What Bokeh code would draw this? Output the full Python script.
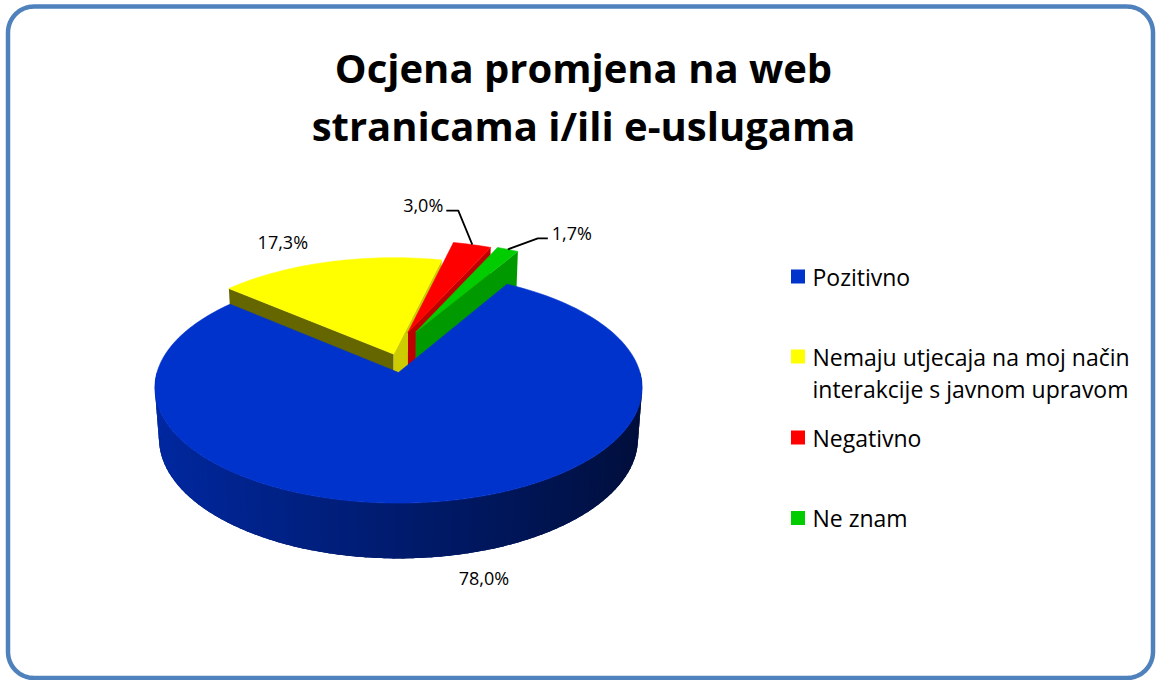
import math
import numpy as np
from bokeh.plotting import figure
from bokeh.models import Range1d, ColumnDataSource
from bokeh.core.properties import value
from bokeh.embed import file_html
from bokeh.resources import INLINE

# ---------------- data ----------------
title_lines = ["Ocjena promjena na web", "stranicama i/ili e-uslugama"]
categories = ["Pozitivno",
              "Nemaju utjecaja na moj način interakcije s javnom upravom",
              "Negativno",
              "Ne znam"]
legend_lines = [["Pozitivno"],
                ["Nemaju utjecaja na moj način", "interakcije s javnom upravom"],
                ["Negativno"],
                ["Ne znam"]]
shares = [78.0, 17.3, 3.0, 1.7]
value_labels = ["78,0%", "17,3%", "3,0%", "1,7%"]

# ---------------- style / layout ----------------
top_colors = ["#0033CC", "#FFFF00", "#FF0000", "#00CC00"]
left_face_colors = ["#001C70", "#666600", "#800000", "#006600"]
right_face_colors = ["#001450", "#CCCC00", "#C00000", "#009900"]
explode = [(0.0, 0.0), (-5.0, 40.0), (10.0, 90.0), (18.0, 90.0)]
label_offsets = [(40, 22), (-46, -20), (-14, -34), (30, -11)]
label_leader = [False, False, True, True]

W, H = 1156, 680
CX, CY, R, DEPTH = 398.0, 372.0, 241.5, 58.0
SIN_A = 0.47
COS_A = math.sqrt(1 - SIN_A ** 2)
DIST = 1628.0
START = 30.0

LEG_SQ_X, LEG_TEXT_X = 797.5, 812
LEG_Y = [276, 356, 437, 517.5]
LEG_LINE_GAP = 32


def project(u, v, z):
    u = np.asarray(u, float)
    v = np.asarray(v, float)
    z = np.asarray(z, float) + 0 * u
    yc = v * SIN_A + z * COS_A
    d = v * COS_A - z * SIN_A
    s = DIST / (DIST + d)
    return CX + u * s, CY - yc * s


def arc_pts(i, a, b, z, n=None):
    du, dv = explode[i]
    if n is None:
        n = max(2, int(abs(b - a) / 1.5) + 2)
    t = np.radians(np.linspace(a, b, n))
    return project(du + R * np.sin(t), dv + R * np.cos(t), z)


def vertex(i, z):
    du, dv = explode[i]
    x, y = project(np.array([du]), np.array([dv]), z)
    return float(x[0]), float(y[0])


p = figure(width=W, height=H, x_range=Range1d(0, W), y_range=Range1d(H, 0),
           output_backend="svg", toolbar_location=None, min_border=0,
           x_axis_location=None, y_axis_location=None)
p.xgrid.visible = False
p.ygrid.visible = False
p.outline_line_color = None
p.background_fill_color = "white"
p.border_fill_color = "white"

# ---------------- rounded border ----------------
bx0, by0, bx1, by1, br = 7.5, 6.0, W - 3.5, H - 2.5, 26
bxs, bys = [], []
for (ccx, ccy, t0, t1) in [(bx1 - br, by0 + br, 270, 360), (bx1 - br, by1 - br, 0, 90),
                           (bx0 + br, by1 - br, 90, 180), (bx0 + br, by0 + br, 180, 270)]:
    tt = np.radians(np.linspace(t0, t1, 16))
    bxs += list(ccx + br * np.cos(tt))
    bys += list(ccy + br * np.sin(tt))
bxs.append(bxs[0])
bys.append(bys[0])
p.line(bxs, bys, line_color="#4F81BD", line_width=4.5)

# ---------------- pie geometry ----------------
total = sum(shares)
cum = np.concatenate([[0.0], np.cumsum(shares)])
ang_a = START + 360.0 * cum[:-1] / total
ang_b = START + 360.0 * cum[1:] / total
n = len(shares)

side_xs, side_ys, side_cols = [], [], []


def shade(col_hex, f):
    r = int(col_hex[1:3], 16); g = int(col_hex[3:5], 16); b = int(col_hex[5:7], 16)
    return "#%02x%02x%02x" % (int(r * f), int(g * f), int(b * f))


for i in range(n):
    a, b = ang_a[i], ang_b[i]
    # radial faces
    for th, vis, col in [(a, math.sin(math.radians(a)) < 0, left_face_colors[i]),
                         (b, math.sin(math.radians(b)) > 0, right_face_colors[i])]:
        if not vis:
            continue
        vx0, vy0 = vertex(i, 0.0)
        vx1, vy1 = vertex(i, -DEPTH)
        ax0, ay0 = arc_pts(i, th, th, 0.0, 2)
        ax1, ay1 = arc_pts(i, th, th, -DEPTH, 2)
        side_xs.append([vx0, float(ax0[0]), float(ax1[0]), vx1])
        side_ys.append([vy0, float(ay0[0]), float(ay1[0]), vy1])
        side_cols.append(col)
    # outer curved side (front half only)
    for k in range(2):
        lo = max(a, 90 + 360 * k)
        hi = min(b, 270 + 360 * k)
        if hi <= lo:
            continue
        # base patch underneath to hide seams
        tx, ty = arc_pts(i, lo, hi, 0.0)
        bx_, by_ = arc_pts(i, hi, lo, -DEPTH)
        side_xs.append(list(tx) + list(bx_))
        side_ys.append(list(ty) + list(by_))
        side_cols.append(shade(top_colors[i], 0.5))
        m = max(2, int((hi - lo) / 2.0) + 1)
        ts = np.linspace(lo, hi, m + 1)
        for j in range(m):
            t0, t1 = ts[j], ts[j + 1]
            x0, y0 = arc_pts(i, t0 - 0.3, t1 + 0.3, 0.0, 2)
            x1, y1 = arc_pts(i, t0 - 0.3, t1 + 0.3, -DEPTH, 2)
            tm = math.radians(0.5 * (t0 + t1))
            f = 0.54 - 0.26 * math.sin(tm)
            side_xs.append([x0[0], x0[1], x1[1], x1[0]])
            side_ys.append([y0[0], y0[1], y1[1], y1[0]])
            side_cols.append(shade(top_colors[i], f))

side_src = ColumnDataSource(dict(xs=side_xs, ys=side_ys, c=side_cols))
p.patches("xs", "ys", source=side_src, fill_color="c", line_color=None)

# top faces
top_xs, top_ys = [], []
for i in range(n):
    vx, vy = vertex(i, 0.0)
    ax, ay = arc_pts(i, ang_a[i], ang_b[i], 0.0)
    top_xs.append([vx] + list(ax))
    top_ys.append([vy] + list(ay))
top_src = ColumnDataSource(dict(xs=top_xs, ys=top_ys, c=top_colors))
p.patches("xs", "ys", source=top_src, fill_color="c", line_color="c", line_width=0.6)

# ---------------- data labels ----------------
lab_x, lab_y, lab_t, lab_al = [], [], [], []
lead_xs, lead_ys = [], []
for i in range(n):
    mid = 0.5 * (ang_a[i] + ang_b[i])
    cos_mid = math.cos(math.radians(mid))
    z = -DEPTH if cos_mid < 0 else 0.0
    ax, ay = arc_pts(i, mid, mid, z, 2)
    ax, ay = float(ax[0]), float(ay[0])
    ox, oy = label_offsets[i]
    if not label_leader[i]:
        lab_x.append(ax + ox); lab_y.append(ay + oy); lab_t.append(value_labels[i]); lab_al.append("center")
    else:
        bx, by = ax + ox, ay + oy
        left = ox < 0
        ex = bx - 12 if left else bx + 10
        lead_xs.append([ax, bx, ex]); lead_ys.append([ay, by, by])
        lab_x.append(ex - 3 if left else ex + 4)
        lab_y.append(by - 5.5)
        lab_t.append(value_labels[i])
        lab_al.append("right" if left else "left")

p.multi_line(lead_xs, lead_ys, line_color="black", line_width=1.8)
p.text(x=lab_x, y=lab_y, text=lab_t, text_align=lab_al, text_baseline="middle",
       text_font=value("Open Sans"), text_font_size="18px", text_color="black")

# ---------------- title ----------------
p.text(x=[583, 583], y=[67, 125], text=title_lines, text_align="center",
       text_baseline="alphabetic", text_font=value("Open Sans"), text_font_size="40px",
       text_font_style="bold", text_color="black")

# ---------------- legend ----------------
p.rect(x=[LEG_SQ_X] * n, y=LEG_Y, width=14, height=14, width_units="screen",
       height_units="screen", fill_color=top_colors, line_color=None)
lx, ly, lt = [], [], []
for i in range(n):
    for j, line in enumerate(legend_lines[i]):
        lx.append(LEG_TEXT_X); ly.append(LEG_Y[i] + j * LEG_LINE_GAP); lt.append(line)
p.text(x=lx, y=ly, text=lt, text_align="left", text_baseline="middle",
       text_font=value("Open Sans"), text_font_size="23px", text_color="black")

open("out.html", "w").write(file_html(p, INLINE))
